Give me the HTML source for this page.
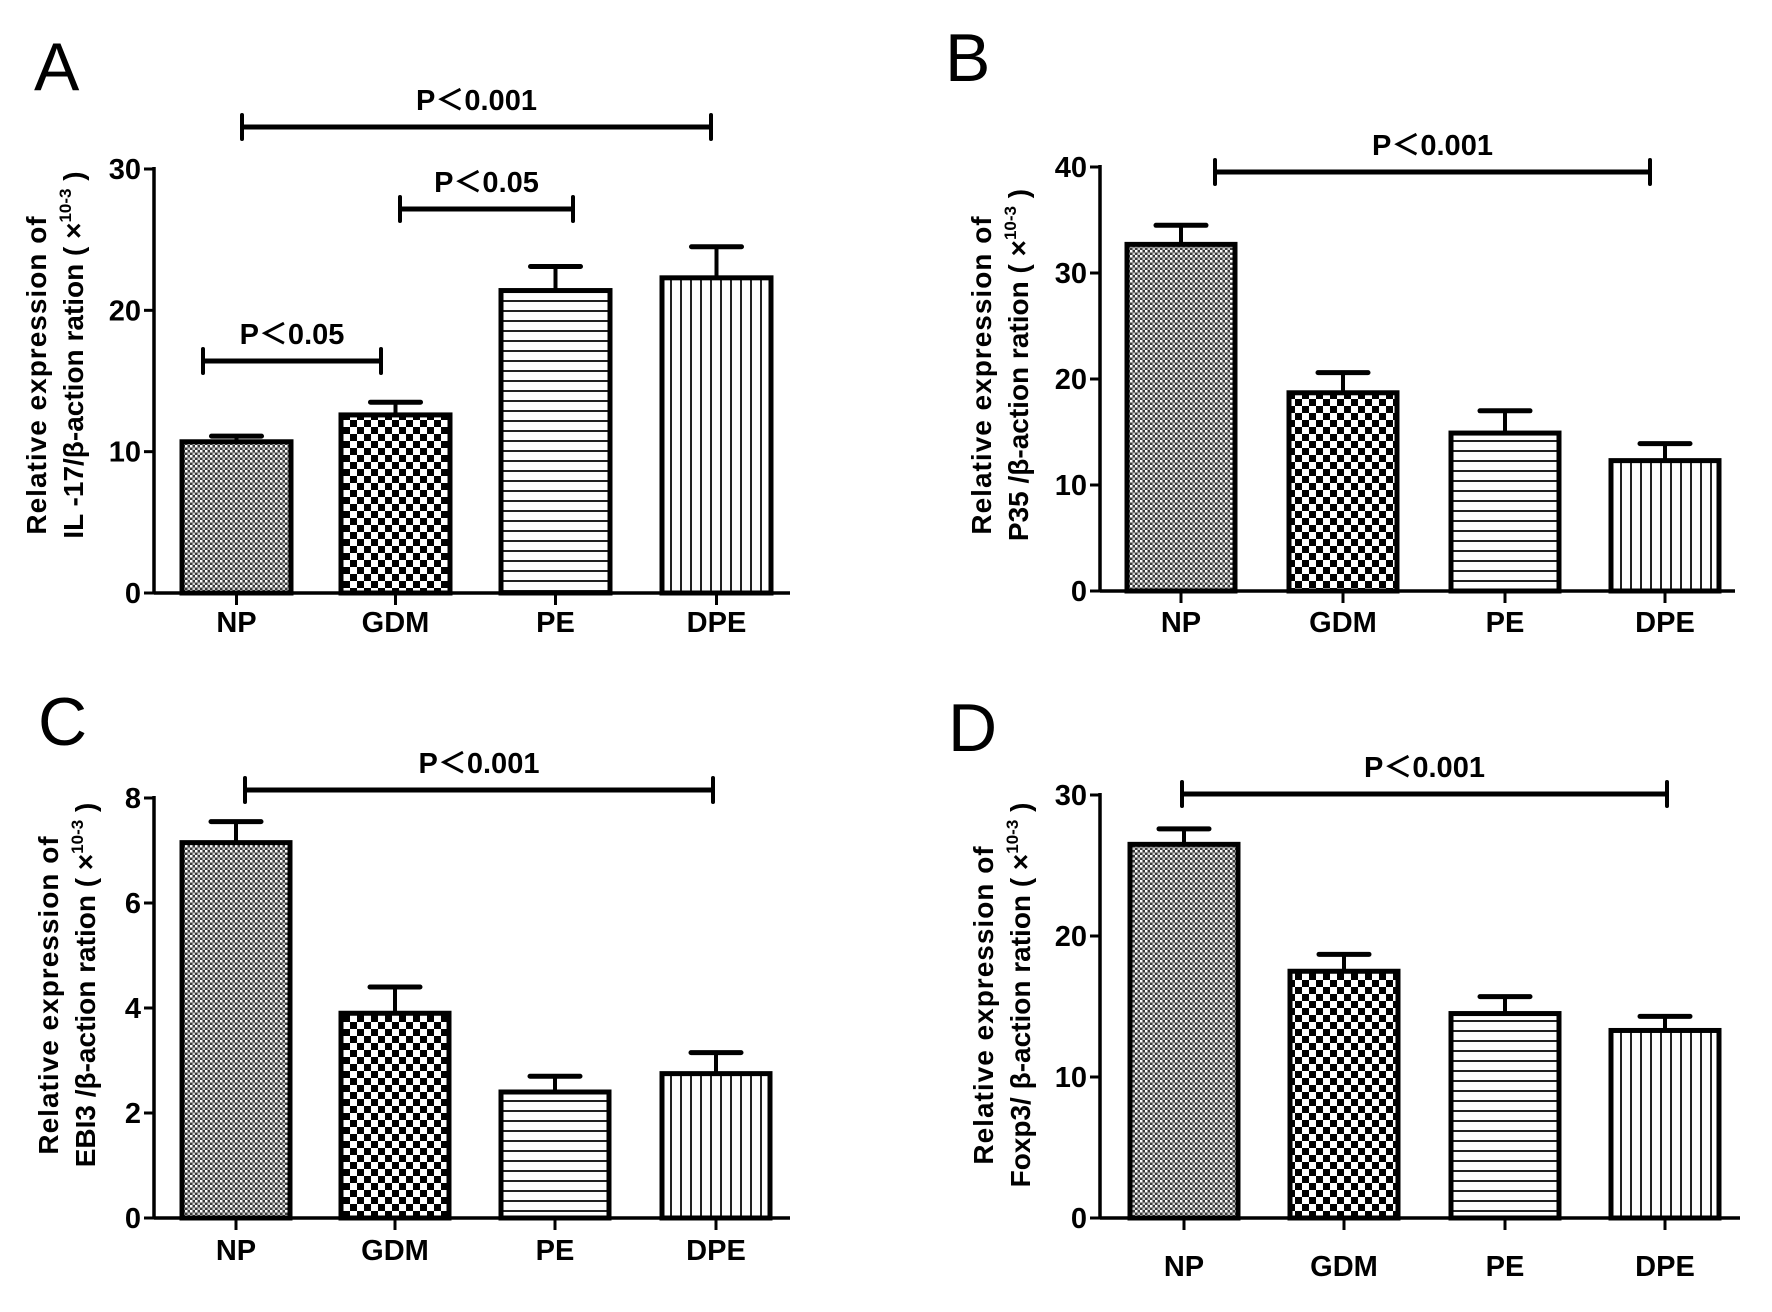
<!DOCTYPE html>
<html><head><meta charset="utf-8"><style>
html,body{margin:0;padding:0;background:#fff}
svg{display:block;font-family:"Liberation Sans","Noto Sans CJK SC",Arial,sans-serif}
</style></head><body>
<svg id="fig" width="1772" height="1312" viewBox="0 0 1772 1312" xmlns="http://www.w3.org/2000/svg">
<defs>
<pattern id="pNP" width="5" height="5" patternUnits="userSpaceOnUse"><rect width="5" height="5" fill="#3a3a3a"/><rect x="0" y="0" width="2.5" height="2.5" fill="#fff"/><rect x="2.5" y="2.5" width="2.5" height="2.5" fill="#ccc"/></pattern>
<pattern id="pGDM" width="14" height="14" patternUnits="userSpaceOnUse"><rect width="14" height="14" fill="#fff"/><rect x="0" y="0" width="7" height="7" fill="#000"/><rect x="7" y="7" width="7" height="7" fill="#000"/></pattern>
<pattern id="pPE" width="10" height="10" patternUnits="userSpaceOnUse"><rect width="10" height="10" fill="#fff"/><rect x="0" y="0" width="10" height="2" fill="#222"/></pattern>
<pattern id="pDPE" width="10" height="10" patternUnits="userSpaceOnUse"><rect width="10" height="10" fill="#fff"/><rect x="0" y="0" width="2" height="10" fill="#222"/></pattern>
</defs>
</svg>
<script>
const categories = ["NP","GDM","PE","DPE"];
const valuesA = [10.7,12.6,21.4,22.3];
const errorsA = [0.4,0.9,1.7,2.2];
const valuesB = [32.7,18.7,14.9,12.3];
const errorsB = [1.8,1.9,2.1,1.6];
const valuesC = [7.15,3.9,2.4,2.75];
const errorsC = [0.4,0.5,0.3,0.4];
const valuesD = [26.5,17.5,14.5,13.3];
const errorsD = [1.1,1.2,1.2,1.0];
const ticksA = [0,10,20,30];
const ticksB = [0,10,20,30,40];
const ticksC = [0,2,4,6,8];
const ticksD = [0,10,20,30];
const pvalsA = ["P\uFF1C0.001","P\uFF1C0.05","P\uFF1C0.05"];
const pvalsB = ["P\uFF1C0.001"];
const pvalsC = ["P\uFF1C0.001"];
const pvalsD = ["P\uFF1C0.001"];
const titlesA = ["Relative expression of","IL  -17/\u03b2-action ration ( \u00d7"];
const titlesB = ["Relative expression of","P35 /\u03b2-action ration ( \u00d7"];
const titlesC = ["Relative expression of","EBI3 /\u03b2-action ration ( \u00d7"];
const titlesD = ["Relative expression of","Foxp3/ \u03b2-action ration ( \u00d7"];

const svg = document.getElementById('fig');
const NS = "http://www.w3.org/2000/svg";
function mk(tag, attrs, parent){const e=document.createElementNS(NS,tag);for(const k in attrs)e.setAttribute(k,attrs[k]);(parent||svg).appendChild(e);return e;}
const pats = ["url(#pNP)","url(#pGDM)","url(#pPE)","url(#pDPE)"];

function panel(cfg){
  const g = mk('g',{});
  
  
  const y = v => cfg.y0 - (v/cfg.max)*(cfg.y0-cfg.yTop);
  const letter = mk('text',{x:cfg.lx,y:cfg.ly,'font-size':68,fill:'#000'},g);
  letter.textContent = cfg.id;
  
  
  const ax = mk('line',{x1:cfg.ax,y1:cfg.yTop-2,x2:cfg.ax,y2:cfg.y0,stroke:'#000','stroke-width':3.5},g);
  
  
  cfg.ticks.forEach(t=>{
    mk('line',{x1:cfg.ax-10,y1:y(t),x2:cfg.ax,y2:y(t),stroke:'#000','stroke-width':3},g);
    const tl = mk('text',{x:cfg.ax-13,y:y(t)+10,'font-size':29,'font-weight':'bold','text-anchor':'end'},g);
    tl.textContent = t;
    
    
  });
  const xa = mk('line',{x1:cfg.ax,y1:cfg.y0,x2:cfg.axEnd,y2:cfg.y0,stroke:'#000','stroke-width':3.5},g);
  
  
  categories.forEach((c,i)=>{
    const x0 = cfg.bx[i], w = cfg.bw, cx = x0+w/2;
    const v = cfg.vals[i], e = cfg.errs[i];
    const eb = mk('g',{},g);
    
    
    mk('line',{x1:cx,y1:y(v),x2:cx,y2:y(v+e),stroke:'#000','stroke-width':4},eb);
    mk('line',{x1:cx-25,y1:y(v+e),x2:cx+25,y2:y(v+e),stroke:'#000','stroke-width':5,'stroke-linecap':'round'},eb);
    const r = mk('rect',{x:x0,y:y(v),width:w,height:cfg.y0-y(v),fill:pats[i],stroke:'#000','stroke-width':5},g);
    
    
    mk('line',{x1:cx,y1:cfg.y0,x2:cx,y2:cfg.y0+12,stroke:'#000','stroke-width':3},g);
    const xl = mk('text',{x:cx,y:cfg.xly,'font-size':29,'font-weight':'bold','text-anchor':'middle'},g);
    xl.textContent = c;
    
    
  });
  cfg.brackets.forEach((b,i)=>{
    const bg = mk('g',{},g);
    
    
    mk('line',{x1:b[0],y1:b[2],x2:b[1],y2:b[2],stroke:'#000','stroke-width':5},bg);
    mk('line',{x1:b[0],y1:b[2]-12,x2:b[0],y2:b[2]+12,stroke:'#000','stroke-width':4,'stroke-linecap':'round'},bg);
    mk('line',{x1:b[1],y1:b[2]-12,x2:b[1],y2:b[2]+12,stroke:'#000','stroke-width':4,'stroke-linecap':'round'},bg);
    const t = mk('text',{x:(b[0]+b[1])/2,y:b[2]-17,'font-size':29,'font-weight':'bold','text-anchor':'middle'},bg);
    t.textContent = cfg.pvals[i];
  });
  const tg = mk('g',{transform:`translate(${cfg.tx},${cfg.tcy}) rotate(-90)`},g);
  
  
  const t1 = mk('text',{x:0,y:0,'font-size':28,'font-weight':'bold','text-anchor':'middle','letter-spacing':1},tg);
  t1.textContent = cfg.titles[0];
  const t2 = mk('text',{x:cfg.t2off,y:37,'font-size':28,'font-weight':'bold','text-anchor':'middle'},tg);
  t2.textContent = cfg.titles[1];
  const sp = mk('tspan',{'font-size':17,dy:-12},t2); sp.textContent='10-3';
  const sp2 = mk('tspan',{dy:12}, t2); sp2.textContent=' )';
}

panel({id:'A',lx:34,ly:90,ax:154,axEnd:790,y0:593,yTop:169,max:30,ticks:ticksA,vals:valuesA,errs:errorsA,
  bx:[182,341,501,662],bw:109,xly:632,pvals:pvalsA,titles:titlesA,tx:46,tcy:375,t2off:20,
  brackets:[[242,711,127],[400,573,209],[203,381,361]]});
panel({id:'B',lx:945,ly:81,ax:1100,axEnd:1735,y0:591,yTop:167,max:40,ticks:ticksB,vals:valuesB,errs:errorsB,
  bx:[1127,1289,1451,1611],bw:108,xly:632,pvals:pvalsB,titles:titlesB,tx:991,tcy:375,t2off:10,
  brackets:[[1215,1650,172]]});
panel({id:'C',lx:38,ly:745,ax:154,axEnd:790,y0:1218,yTop:798,max:8,ticks:ticksC,vals:valuesC,errs:errorsC,
  bx:[182,341,501,662],bw:108,xly:1260,pvals:pvalsC,titles:titlesC,tx:58,tcy:995,t2off:10,
  brackets:[[245,713,790]]});
panel({id:'D',lx:948,ly:751,ax:1100,axEnd:1740,y0:1218,yTop:795,max:30,ticks:ticksD,vals:valuesD,errs:errorsD,
  bx:[1130,1290,1451,1611],bw:108,xly:1276,pvals:pvalsD,titles:titlesD,tx:993,tcy:1005,t2off:10,
  brackets:[[1182,1667,794]]});
</script>
</body></html>
